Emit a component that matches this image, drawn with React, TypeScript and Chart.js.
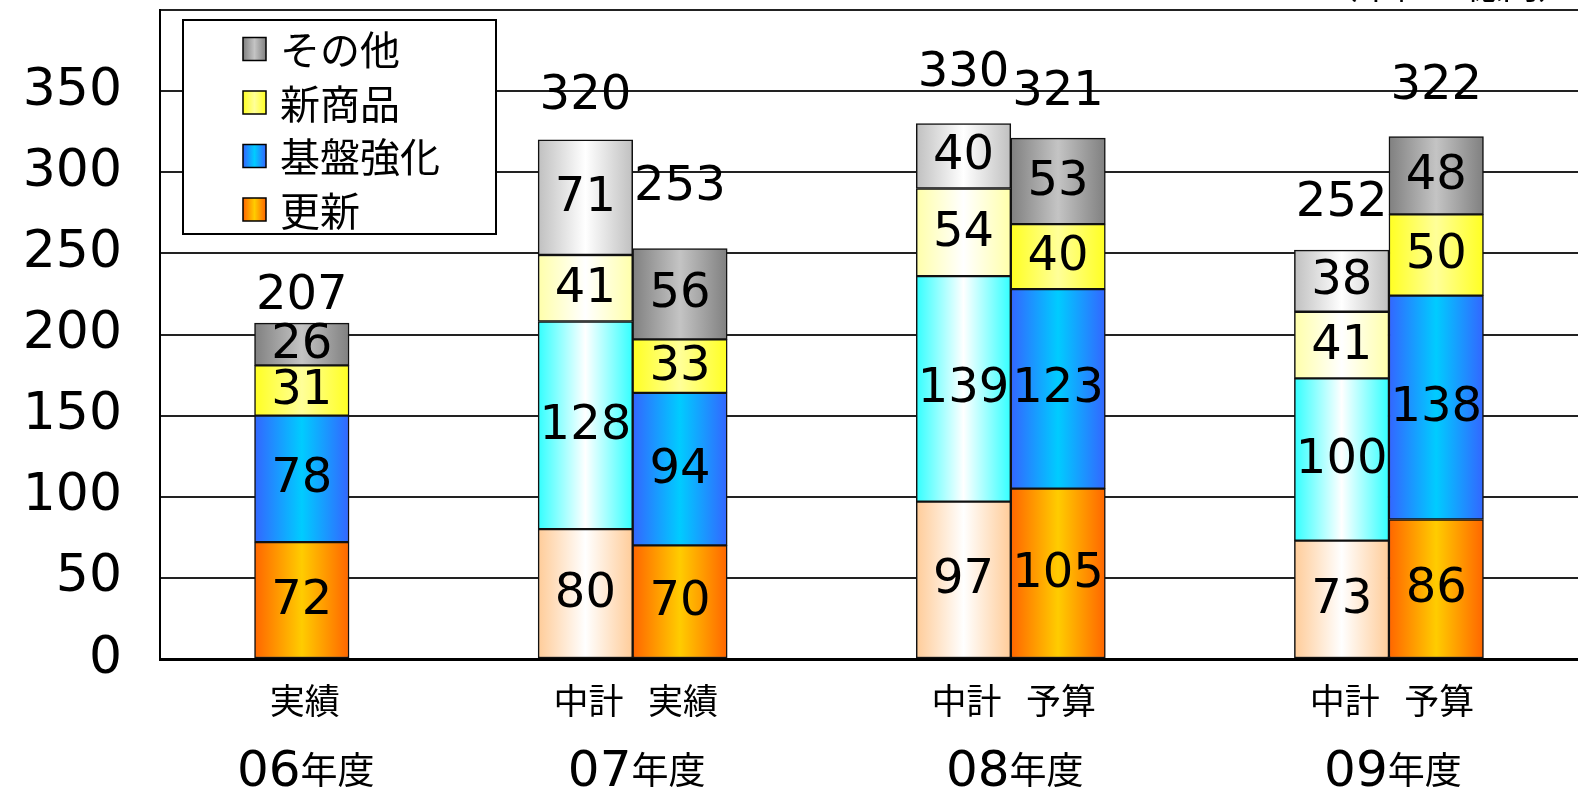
import React, { useEffect, useRef } from 'react';
import { Chart, registerables } from 'chart.js';

Chart.register(...registerables);

// ---- data ----
const years = ['06', '07', '08', '09'];
const yearSuffix = '年度';
const barNames = ['実績', '中計', '実績', '中計', '予算', '中計', '予算'];
const barYear = [0, 1, 1, 2, 2, 3, 3];
const barIsPlan = [false, true, false, true, false, true, false];
const seriesNames = ['更新', '基盤強化', '新商品', 'その他'];
const renewal = [72, 80, 70, 97, 105, 73, 86];
const foundation = [78, 128, 94, 139, 123, 100, 138];
const newProducts = [31, 41, 33, 54, 40, 41, 50];
const others = [26, 71, 56, 40, 53, 38, 48];
const totals = [207, 320, 253, 330, 321, 252, 322];
const yMax = 400;
const yStep = 50;
const unitLabel = '（単位：億円）';

// ---- layout / style (not data) ----
const W = 1578;
const H = 792;
const slotsPerYear = 4;
const slotCount = 15;
const totalLabelLift = [27, 43, 61, 50, 46, 47, 50];
const actualColors = [
  ['#FF6600', '#FFCC00'],
  ['#3366FF', '#00CCFF'],
  ['#FFFF22', '#FFFF99'],
  ['#808080', '#C4C4C4'],
];
const planColors = [
  ['#FFCC99', '#FFFFFF'],
  ['#33FFFF', '#FFFFFF'],
  ['#FFFFAA', '#FFFFFF'],
  ['#C0C0C0', '#FFFFFF'],
];

const slotOf = (b: number) => barYear[b] * slotsPerYear + (barIsPlan[b] ? 0 : 1);
const slotPlan: boolean[] = Array(slotCount).fill(false);
barIsPlan.forEach((p, b) => { slotPlan[slotOf(b)] = p; });
const slotLabels: string[] = Array(slotCount).fill('');
barNames.forEach((n, b) => { slotLabels[slotOf(b)] = n; });

const toSlots = (vals: number[]) => {
  const arr: (number | null)[] = Array(slotCount).fill(null);
  vals.forEach((v, b) => { arr[slotOf(b)] = v; });
  return arr;
};
const seriesValues = [renewal, foundation, newProducts, others];

const makeBg = (k: number) => (ctx: any) => {
  const chart = ctx.chart;
  const idx = ctx.dataIndex;
  const plan = idx != null ? slotPlan[idx] : false;
  const [edge, center] = (plan ? planColors : actualColors)[k];
  const xs = chart.scales && chart.scales.x;
  if (!xs || !chart.chartArea || ctx.type !== 'data') return edge;
  const cx = xs.getPixelForValue(idx);
  const w = (xs.right - xs.left) / slotCount;
  const g = chart.ctx.createLinearGradient(cx - w / 2, 0, cx + w / 2, 0);
  g.addColorStop(0, edge);
  g.addColorStop(0.5, center);
  g.addColorStop(1, edge);
  return g;
};

const NUM_FONT = '"DejaVu Sans", sans-serif';
const JP_FONT = '"Noto Sans CJK JP", sans-serif';

const overlayPlugin = {
  id: 'overlay',
  afterDatasetsDraw(chart: any) {
    const c = chart.ctx;
    const xs = chart.scales.x;
    const ys = chart.scales.y;
    c.save();
    c.fillStyle = '#000';
    c.textAlign = 'center';
    c.textBaseline = 'middle';
    c.font = `48px ${NUM_FONT}`;
    chart.data.datasets.forEach((ds: any, di: number) => {
      const meta = chart.getDatasetMeta(di);
      meta.data.forEach((el: any, i: number) => {
        const v = ds.data[i];
        if (v == null) return;
        const p = el.getProps(['x', 'y', 'base'], true);
        c.fillText(String(v), p.x, (p.y + p.base) / 2 + 1);
      });
    });
    totals.forEach((t, b) => {
      const x = xs.getPixelForValue(slotOf(b));
      const y = ys.getPixelForValue(t) - totalLabelLift[b];
      c.fillText(String(t), x, y);
    });
    c.restore();
  },
  afterDraw(chart: any) {
    const c = chart.ctx;
    const xs = chart.scales.x;
    const area = chart.chartArea;
    c.save();
    // unit label (clipped at top)
    c.fillStyle = '#000';
    c.font = `36px ${JP_FONT}`;
    c.textAlign = 'right';
    c.textBaseline = 'alphabetic';
    c.fillText(unitLabel, W - 4, -1);

    // bar labels
    c.textAlign = 'center';
    c.textBaseline = 'middle';
    c.font = `35px ${JP_FONT}`;
    slotLabels.forEach((lab, i) => {
      if (!lab) return;
      c.fillText(lab, xs.getPixelForValue(i) + 3, area.bottom + 42);
    });
    // year labels
    years.forEach((yr, yi) => {
      const px: number[] = [];
      barYear.forEach((y, b) => { if (y === yi) px.push(xs.getPixelForValue(slotOf(b))); });
      const cx = px.reduce((a, v) => a + v, 0) / px.length;
      c.font = `50px ${NUM_FONT}`;
      const w1 = c.measureText(yr).width;
      c.font = `37px ${JP_FONT}`;
      const w2 = c.measureText(yearSuffix).width;
      const x0 = cx - (w1 + w2) / 2 + 4;
      c.textAlign = 'left';
      c.textBaseline = 'alphabetic';
      c.font = `50px ${NUM_FONT}`;
      c.fillText(yr, x0, area.bottom + 127);
      c.font = `37px ${JP_FONT}`;
      c.fillText(yearSuffix, x0 + w1, area.bottom + 125);
    });

    // legend
    const lx = 183, ly = 20, lw = 313, lh = 214;
    c.fillStyle = '#fff';
    c.fillRect(lx, ly, lw, lh);
    c.strokeStyle = '#000';
    c.lineWidth = 2;
    c.strokeRect(lx, ly, lw, lh);
    const order = [3, 2, 1, 0];
    order.forEach((k, r) => {
      const cy = 49 + r * 53.5;
      const sx = 243, sz = 23;
      const g = c.createLinearGradient(sx, 0, sx + sz, 0);
      g.addColorStop(0, actualColors[k][0]);
      g.addColorStop(0.5, actualColors[k][1]);
      g.addColorStop(1, actualColors[k][0]);
      c.fillStyle = g;
      c.fillRect(sx, cy - sz / 2, sz, sz);
      c.lineWidth = 1.5;
      c.strokeStyle = '#000';
      c.strokeRect(sx, cy - sz / 2, sz, sz);
      c.fillStyle = '#000';
      c.font = `40px ${JP_FONT}`;
      c.textAlign = 'left';
      c.textBaseline = 'middle';
      c.fillText(seriesNames[k], 280, cy + 1);
    });
    c.restore();
  },
};

export default function App() {
  const ref = useRef<HTMLCanvasElement | null>(null);
  useEffect(() => {
    document.body.style.margin = '0';
    const canvas = ref.current;
    if (!canvas) return;
    const chart = new Chart(canvas, {
      type: 'bar',
      data: {
        labels: slotLabels,
        datasets: seriesValues.map((vals, k) => ({
          label: seriesNames[k],
          data: toSlots(vals),
          backgroundColor: makeBg(k),
          borderColor: '#111',
          borderWidth: 1.5,
          borderSkipped: false,
          barPercentage: 1,
          categoryPercentage: 1,
        })),
      },
      options: {
        responsive: false,
        animation: false,
        devicePixelRatio: 1,
        layout: { padding: { left: 0, right: 0, top: 10, bottom: 133 } },
        plugins: { legend: { display: false }, tooltip: { enabled: false } },
        scales: {
          x: {
            stacked: true,
            ticks: { display: false },
            grid: { display: false },
            border: { display: true, color: '#000', width: 3 },
            afterFit: (s: any) => { s.height = 0; s.paddingLeft = 0; s.paddingRight = 0; },
          },
          y: {
            stacked: true,
            min: 0,
            max: yMax,
            ticks: {
              stepSize: yStep,
              color: '#000',
              padding: 38,
              font: { family: 'DejaVu Sans', size: 52 },
              callback: (v: any) => (Number(v) >= yMax ? '' : String(v)),
            },
            grid: { color: '#222', lineWidth: 2, drawTicks: false },
            border: { display: true, color: '#000', width: 2 },
            afterFit: (s: any) => { s.width = 160; s.paddingTop = 0; s.paddingBottom = 0; },
          },
        },
      },
      plugins: [overlayPlugin],
    });
    return () => chart.destroy();
  }, []);
  return (
    <div style={{ width: W, height: H, overflow: 'hidden', background: '#fff' }}>
      <canvas ref={ref} width={W} height={H} style={{ display: 'block', width: W, height: H }} />
    </div>
  );
}
